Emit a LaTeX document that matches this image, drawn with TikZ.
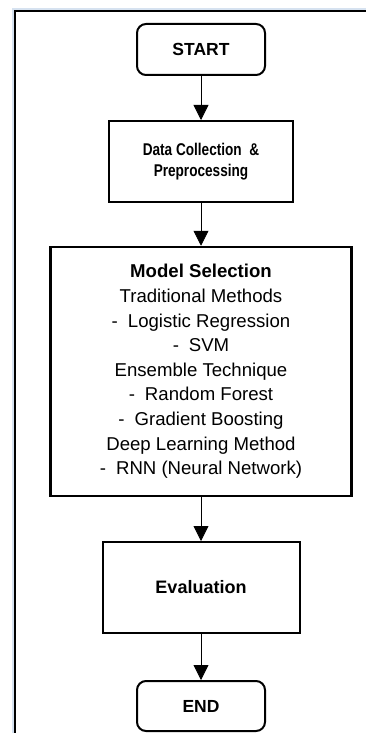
\documentclass[tikz,border=0pt]{standalone}
\usepackage{fontspec}
\setmainfont{Liberation Sans}
\newfontfamily\narrowsans[FakeStretch=0.8]{Liberation Sans}
\usetikzlibrary{arrows.meta}
\definecolor{cellblue}{RGB}{214,226,240}

\begin{document}
\begin{tikzpicture}[x=1pt,y=-1pt,>={Triangle[length=15pt,width=15pt]},
    term/.style={draw,line width=2pt,rounded corners=9pt,minimum width=128pt,
        minimum height=51pt,font=\fontsize{17.5}{20}\selectfont\bfseries},
    proc/.style={draw,line width=2pt,align=center,inner sep=0pt}]
    \useasboundingbox (0,0) rectangle (366,733);
    % table cell edge
    \fill[cellblue] (12,8) rectangle (366,733);
    \fill[white] (14,10) rectangle (366,733);
    \draw[line width=2pt] (15,733) -- (15,11) -- (366,11);

    \node[term] (start) at (201,49.5) {START};
    \node[proc,minimum width=184pt,minimum height=81pt,
        font=\narrowsans\fontsize{17}{21}\selectfont\bfseries] (prep) at (201,161.5)
        {Data Collection \ \&\\Preprocessing};
    \node[proc,line width=2.5pt,minimum width=301pt,minimum height=249pt,
        font=\fontsize{18.6}{24.6}\selectfont] (model) at (201,371.5)
        {\textbf{Model Selection}\\
         Traditional Methods\\
         -\hspace{10pt}Logistic Regression\\
         -\hspace{10pt}SVM\\
         Ensemble Technique\\
         -\hspace{10pt}Random Forest\\
         -\hspace{10pt}Gradient Boosting\\
         Deep Learning Method\\
         -\hspace{10pt}RNN (Neural Network)};
    \node[proc,minimum width=197pt,minimum height=91pt,
        font=\fontsize{18}{22}\selectfont\bfseries] (eval) at (201,587.5) {Evaluation};
    \node[term,minimum height=50pt] (end) at (201,706) {END};

    \draw[->,thick] (start) -- (prep);
    \draw[->,thick] (prep) -- (model);
    \draw[->,thick] (model) -- (eval);
    \draw[->,thick] (eval) -- (end);
\end{tikzpicture}
\end{document}
